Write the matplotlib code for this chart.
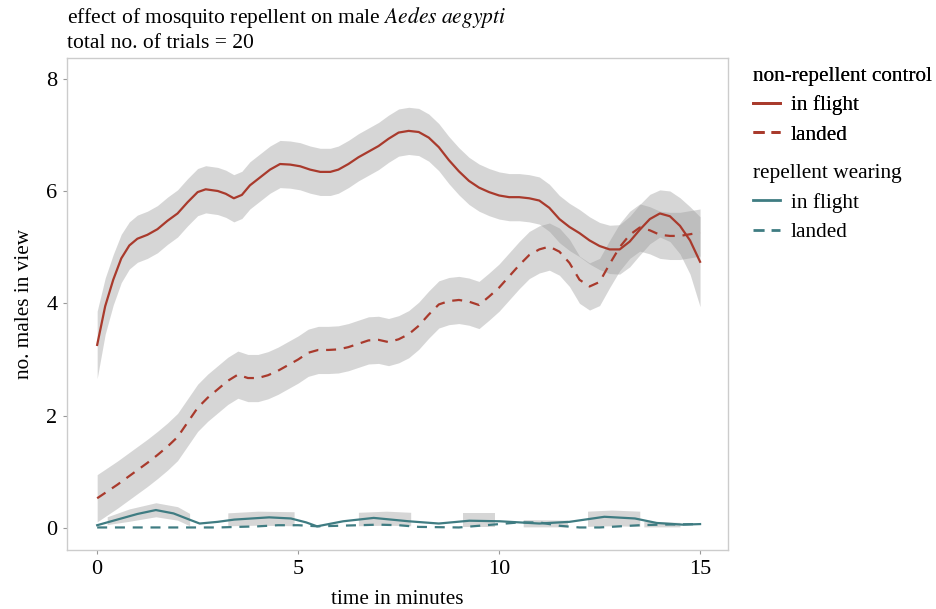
import numpy as np
import matplotlib
matplotlib.use('Agg')
import matplotlib.pyplot as plt
from matplotlib.lines import Line2D

plt.rcParams['font.family'] = ['Liberation Serif', 'DejaVu Serif']

# 非驱蚊对照组: 飞行中
ctrl_fly_t = [0, 0.2, 0.4, 0.6, 0.8, 1.0, 1.25, 1.5, 1.75, 2.0, 2.25, 2.5, 2.7, 3.0, 3.2, 3.4,
              3.6, 3.8, 4.05, 4.3, 4.55, 4.8, 5.05, 5.3, 5.55, 5.8, 6.0, 6.25, 6.5, 6.75, 7.0,
              7.25, 7.5, 7.75, 8.0, 8.25, 8.5, 8.75, 9.0, 9.25, 9.5, 9.75, 10.0, 10.25, 10.5,
              10.75, 11.0, 11.25, 11.5, 11.75, 12.0, 12.25, 12.5, 12.75, 13.0, 13.25, 13.5,
              13.75, 14.0, 14.25, 14.5, 14.75, 15.0]
ctrl_fly_y = [3.26, 3.95, 4.42, 4.8, 5.03, 5.15, 5.22, 5.32, 5.47, 5.6, 5.8, 5.98, 6.03, 6.0,
              5.95, 5.87, 5.93, 6.1, 6.24, 6.38, 6.48, 6.47, 6.44, 6.38, 6.34, 6.34, 6.38, 6.48,
              6.6, 6.7, 6.8, 6.93, 7.04, 7.07, 7.05, 6.95, 6.78, 6.55, 6.35, 6.18, 6.06, 5.98,
              5.92, 5.89, 5.89, 5.87, 5.83, 5.7, 5.5, 5.36, 5.25, 5.12, 5.02, 4.96, 4.96, 5.1,
              5.31, 5.5, 5.6, 5.55, 5.38, 5.12, 4.74]
ctrl_fly_se = [0.6, 0.5, 0.45, 0.43, 0.42, 0.42, 0.42, 0.42, 0.42, 0.42, 0.42, 0.42, 0.42,
               0.42, 0.42, 0.42, 0.42, 0.42, 0.42, 0.42, 0.42, 0.42, 0.42, 0.42, 0.42, 0.42,
               0.42, 0.42, 0.42, 0.42, 0.42, 0.42, 0.42, 0.42, 0.42, 0.42, 0.42, 0.42, 0.42,
               0.42, 0.42, 0.42, 0.42, 0.42, 0.42, 0.42, 0.42, 0.42, 0.42, 0.42, 0.42, 0.42,
               0.42, 0.43, 0.44, 0.45, 0.45, 0.44, 0.42, 0.45, 0.5, 0.6, 0.8]

# 非驱蚊对照组: 已着陆
ctrl_land_t = [0, 0.25, 0.5, 0.75, 1.0, 1.25, 1.5, 1.75, 2.0, 2.25, 2.5, 2.75, 3.0, 3.25,
               3.5, 3.75, 4.0, 4.25, 4.5, 4.75, 5.0, 5.25, 5.5, 5.75, 6.0, 6.25, 6.5, 6.75,
               7.0, 7.25, 7.5, 7.75, 8.0, 8.25, 8.5, 8.75, 9.0, 9.25, 9.5, 9.75, 10.0, 10.25,
               10.5, 10.75, 11.0, 11.25, 11.5, 11.75, 12.0, 12.25, 12.5, 12.75, 13.0, 13.25,
               13.5, 13.75, 14.0, 14.25, 14.5, 14.75, 15.0]
ctrl_land_y = [0.53, 0.65, 0.77, 0.9, 1.03, 1.16, 1.3, 1.45, 1.62, 1.88, 2.14, 2.32, 2.47,
               2.62, 2.73, 2.67, 2.67, 2.72, 2.8, 2.9, 3.0, 3.12, 3.17, 3.17, 3.18, 3.22, 3.28,
               3.34, 3.35, 3.31, 3.36, 3.45, 3.6, 3.8, 3.98, 4.04, 4.06, 4.03, 3.97, 4.12, 4.28,
               4.48, 4.68, 4.86, 4.96, 5.01, 4.92, 4.72, 4.42, 4.3, 4.38, 4.7, 5.0, 5.22, 5.35,
               5.3, 5.22, 5.2, 5.2, 5.23, 5.26]
ctrl_land_se = 0.42

# 佩戴驱蚊剂组: 飞行中
rep_fly_t = [0, 0.5, 1.0, 1.46, 1.9, 2.33, 2.55, 3.0, 3.41, 4.28, 4.82, 5.2, 5.47, 6.12,
             6.88, 7.75, 8.5, 9.26, 10.02, 11.0, 11.75, 12.62, 13.38, 13.92, 14.57, 15.0]
rep_fly_y = [0.05, 0.15, 0.25, 0.32, 0.26, 0.14, 0.08, 0.11, 0.15, 0.19, 0.17, 0.1, 0.03,
             0.12, 0.18, 0.12, 0.08, 0.13, 0.12, 0.08, 0.11, 0.2, 0.17, 0.09, 0.06, 0.07]

# 佩戴驱蚊剂组: 已着陆
rep_land_t = [0, 1.0, 2.0, 3.0, 4.0, 4.5, 5.0, 5.5, 6.5, 7.0, 7.5, 8.0, 9.0, 10.0, 10.5,
              11.0, 11.5, 12.0, 12.5, 13.0, 13.5, 14.0, 15.0]
rep_land_y = [0.01, 0.01, 0.01, 0.01, 0.03, 0.05, 0.05, 0.03, 0.05, 0.06, 0.05, 0.02, 0.01,
              0.07, 0.1, 0.1, 0.04, 0.01, 0.01, 0.03, 0.05, 0.06, 0.07]

# 驱蚊剂组置信带 (分段)
rep_band_segments = [
    ([0.25, 0.8, 1.46, 2.0, 2.3], [0.06, 0.12, 0.2, 0.14, 0.04], [0.2, 0.34, 0.45, 0.38, 0.26]),
    ([3.25, 4.0, 4.9], [0.04, 0.05, 0.04], [0.27, 0.3, 0.29]),
    ([6.5, 7.2, 7.8], [0.04, 0.05, 0.04], [0.28, 0.3, 0.28]),
    ([9.1, 9.9], [0.02, 0.02], [0.26, 0.26]),
    ([10.6, 11.7], [0.02, 0.02], [0.15, 0.14]),
    ([12.2, 12.8, 13.5], [0.03, 0.04, 0.03], [0.3, 0.32, 0.3]),
    ([13.6, 14.5], [0.02, 0.02], [0.12, 0.1]),
]

red = '#a93a2c'
teal = '#3f7c82'
band_color = '#9a9a9a'

fig = plt.figure(figsize=(9.36, 6.09), dpi=100)
ax = fig.add_axes([0.0716, 0.097, 0.7064, 0.808])

# 置信带
t = np.array(ctrl_fly_t)
y = np.array(ctrl_fly_y)
se = np.array(ctrl_fly_se)
ax.fill_between(t, y - se, y + se, color=band_color, alpha=0.4, lw=0)

t = np.array(ctrl_land_t)
y = np.array(ctrl_land_y)
ax.fill_between(t, y - ctrl_land_se, y + ctrl_land_se, color=band_color, alpha=0.4, lw=0)

for bt, lo, hi in rep_band_segments:
    ax.fill_between(bt, lo, hi, color=band_color, alpha=0.4, lw=0)

# 曲线
ax.plot(ctrl_fly_t, ctrl_fly_y, color=red, lw=1.6)
ax.plot(ctrl_land_t, ctrl_land_y, color=red, lw=1.6, ls=(0, (4.5, 3.5)))
ax.plot(rep_fly_t, rep_fly_y, color=teal, lw=1.6)
ax.plot(rep_land_t, rep_land_y, color=teal, lw=1.6, ls=(0, (4.5, 3.5)))

ax.set_xlim(-0.75, 15.7)
ax.set_ylim(-0.39, 8.37)
ax.set_xticks([0, 5, 10, 15])
ax.set_yticks([0, 2, 4, 6, 8])
ax.tick_params(labelsize=16, length=3, color='#999999', pad=4, labelcolor='black')
for s in ax.spines.values():
    s.set_color('#cccccc')
    s.set_linewidth(1.0)

ax.set_xlabel('time in minutes', fontsize=15.3, labelpad=8)
ax.set_ylabel('no. males in view', fontsize=15.3, labelpad=9)

fig.text(0.0716, 0.962, 'effect of mosquito repellent on male $\\it{Aedes\\ aegypti}$',
         fontsize=15.5, ha='left', va='baseline', math_fontfamily='stix')
fig.text(0.0716, 0.921, 'total no. of trials = 20', fontsize=15.5, ha='left', va='baseline')

# 图例
h1 = [Line2D([], [], color=red, lw=2), Line2D([], [], color=red, lw=2, ls=(0, (4, 2.5)))]
h2 = [Line2D([], [], color=teal, lw=2), Line2D([], [], color=teal, lw=2, ls=(0, (4, 2.5)))]
leg_kw = dict(loc='upper left', frameon=False, fontsize=15.3, title_fontsize=15.3,
              alignment='left', handlelength=1.3, handletextpad=0.5, labelspacing=0.45,
              borderaxespad=0, borderpad=0)
leg1 = fig.legend(h1, ['in flight', 'landed'], title='non-repellent control',
                  bbox_to_anchor=(0.804, 0.89), **leg_kw)
leg2 = fig.legend(h2, ['in flight', 'landed'], title='repellent wearing',
                  bbox_to_anchor=(0.804, 0.73), **leg_kw)
fig.add_artist(leg1)

fig.savefig('out.png', dpi=100)
